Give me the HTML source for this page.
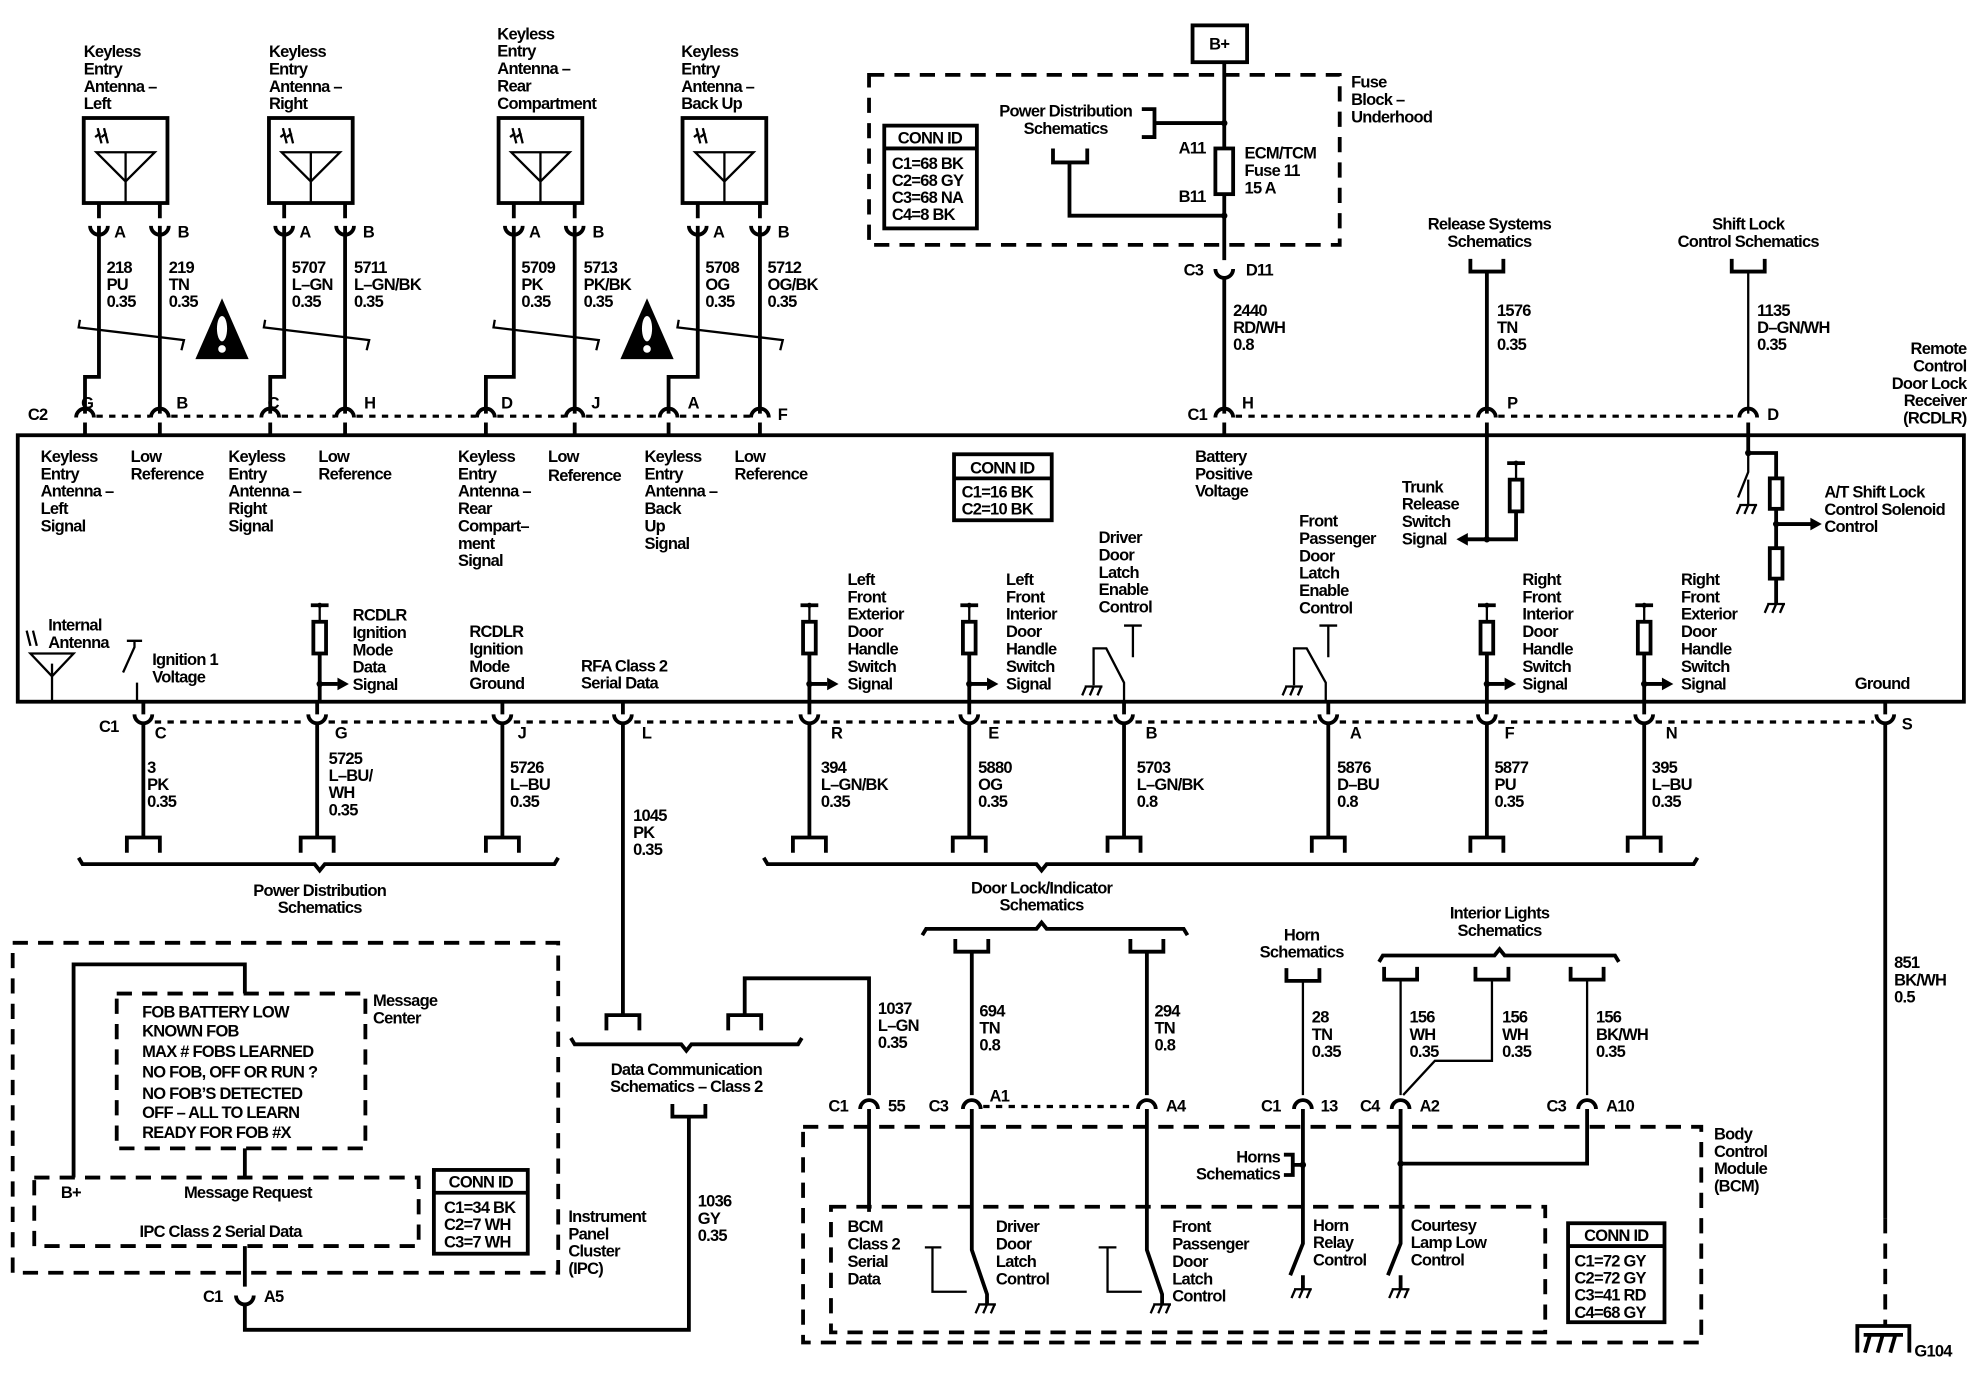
<!DOCTYPE html>
<html><head><meta charset="utf-8"><style>
html,body{margin:0;padding:0;background:#fff;}
svg{display:block;}
text{font-family:"Liberation Sans",sans-serif;font-size:13px;fill:#000;letter-spacing:-0.6px;font-weight:bold;}
.w{stroke:#000;stroke-width:3;fill:none;}
.t{stroke:#000;stroke-width:1.8;fill:none;}
.d{stroke:#000;stroke-width:3;fill:none;stroke-dasharray:12 8;}
.dd{stroke:#000;stroke-width:2.5;fill:none;stroke-dasharray:5 5;}
</style></head><body>
<svg width="1988" height="1392" viewBox="0 0 1567 1097" preserveAspectRatio="none" xmlns="http://www.w3.org/2000/svg">
<defs>
<path id="cu" d="M-7,-7 A7,7 0 0 0 7,-7" class="w"/>
<path id="ca" d="M-7,7 A7,7 0 0 1 7,7" class="w"/>
<path id="bt" d="M-13,12 V0 H13 V12" class="w"/>
<path id="bb" d="M-13,0 V10 H13 V0" class="w"/>
<path id="gnd" d="M-7,0 H7 M-6,0 l-3,7 M0,0 l-3,7 M6,0 l-3,7" class="t"/>
<g id="ant"><rect x="0" y="0" width="66" height="67" class="w"/><path d="M10,27 H56 L33,50 Z M33,27 V67" class="t"/><path d="M11,8 l3,12 M16,8 l3,12 M9,15 l4,-3 M14,15 l4,-3" class="t"/></g>
<g id="warn"><path d="M0,0 L21,48 H-21 Z" fill="#000"/><ellipse cx="0" cy="24" rx="4" ry="10" fill="#fff"/><circle cx="0" cy="40" r="3" fill="#fff"/></g>
<g id="res"><path d="M-7,0 H7" class="w"/><circle cx="0" cy="0" r="2"/><path d="M0,0 V13" class="t"/><rect x="-5" y="13" width="10" height="25" class="w" fill="#fff"/></g>
</defs>

<text x="66" y="45">Keyless<tspan x="66" dy="13.7">Entry</tspan><tspan x="66" dy="13.7">Antenna –</tspan><tspan x="66" dy="13.7">Left</tspan></text>
<text x="212" y="45">Keyless<tspan x="212" dy="13.7">Entry</tspan><tspan x="212" dy="13.7">Antenna –</tspan><tspan x="212" dy="13.7">Right</tspan></text>
<text x="392" y="31">Keyless<tspan x="392" dy="13.7">Entry</tspan><tspan x="392" dy="13.7">Antenna –</tspan><tspan x="392" dy="13.7">Rear</tspan><tspan x="392" dy="13.7">Compartment</tspan></text>
<text x="537" y="45">Keyless<tspan x="537" dy="13.7">Entry</tspan><tspan x="537" dy="13.7">Antenna –</tspan><tspan x="537" dy="13.7">Back Up</tspan></text>
<use href="#ant" x="66" y="93"/><use href="#ant" x="212" y="93"/><use href="#ant" x="393" y="93"/><use href="#ant" x="538" y="93"/>

<g class="w">
<path d="M78,160 V172 M126,160 V172 M224,160 V172 M272,160 V172 M405,160 V172 M453,160 V172 M550,160 V172 M599,160 V172"/>
<path d="M78,178 V297 H67 V326 M126,178 V326 M224,178 V297 H213 V326 M272,178 V326 M405,178 V297 H383 V326 M453,178 V326 M550,178 V297 H527 V326 M599,178 V326"/>
</g>
<use href="#cu" x="78" y="185"/><use href="#cu" x="126" y="185"/><use href="#cu" x="224" y="185"/><use href="#cu" x="272" y="185"/>
<use href="#cu" x="405" y="185"/><use href="#cu" x="453" y="185"/><use href="#cu" x="550" y="185"/><use href="#cu" x="599" y="185"/>
<text x="90" y="187">A</text><text x="140" y="187">B</text><text x="236" y="187">A</text><text x="286" y="187">B</text>
<text x="417" y="187">A</text><text x="467" y="187">B</text><text x="562" y="187">A</text><text x="613" y="187">B</text>
<text x="84" y="215">218<tspan x="84" dy="13.5">PU</tspan><tspan x="84" dy="13.5">0.35</tspan></text>
<text x="133" y="215">219<tspan x="133" dy="13.5">TN</tspan><tspan x="133" dy="13.5">0.35</tspan></text>
<text x="230" y="215">5707<tspan x="230" dy="13.5">L–GN</tspan><tspan x="230" dy="13.5">0.35</tspan></text>
<text x="279" y="215">5711<tspan x="279" dy="13.5">L–GN/BK</tspan><tspan x="279" dy="13.5">0.35</tspan></text>
<text x="411" y="215">5709<tspan x="411" dy="13.5">PK</tspan><tspan x="411" dy="13.5">0.35</tspan></text>
<text x="460" y="215">5713<tspan x="460" dy="13.5">PK/BK</tspan><tspan x="460" dy="13.5">0.35</tspan></text>
<text x="556" y="215">5708<tspan x="556" dy="13.5">OG</tspan><tspan x="556" dy="13.5">0.35</tspan></text>
<text x="605" y="215">5712<tspan x="605" dy="13.5">OG/BK</tspan><tspan x="605" dy="13.5">0.35</tspan></text>
<g class="t" stroke-width="2.5">
<path d="M63,252 L62,258 L145,268 L143,276"/>
<path d="M209,252 L208,258 L291,268 L289,276"/>
<path d="M390,252 L389,258 L472,268 L470,276"/>
<path d="M535,252 L534,258 L617,268 L615,276"/>
</g>
<use href="#warn" x="175" y="235"/><use href="#warn" x="510" y="235"/>

<g class="w"><path d="M67,333 V343 M126,333 V343 M213,333 V343 M272,333 V343 M383,333 V343 M453,333 V343 M527,333 V343 M599,333 V343 M965,333 V343 M1378,333 V343"/></g>
<use href="#ca" x="67" y="322"/><use href="#ca" x="126" y="322"/><use href="#ca" x="213" y="322"/><use href="#ca" x="272" y="322"/>
<use href="#ca" x="383" y="322"/><use href="#ca" x="453" y="322"/><use href="#ca" x="527" y="322"/><use href="#ca" x="599" y="322"/>
<use href="#ca" x="965" y="322"/><use href="#ca" x="1172" y="322"/><use href="#ca" x="1378" y="322"/>
<path d="M76,328 H118 M135,328 H205 M222,328 H264 M281,328 H375 M392,328 H445 M462,328 H519 M536,328 H591 M974,328 H1164 M1181,328 H1370" class="dd"/>
<text x="22" y="331">C2</text><text x="64" y="322">G</text><text x="139" y="322">B</text><text x="211" y="322">C</text><text x="287" y="322">H</text>
<text x="395" y="322">D</text><text x="466" y="322">J</text><text x="542" y="322">A</text><text x="613" y="331">F</text>
<text x="936" y="331">C1</text><text x="979" y="322">H</text><text x="1188" y="322">P</text><text x="1393" y="331">D</text>

<rect x="14" y="343" width="1534" height="210" class="w"/>
<text x="1550" y="279" text-anchor="end">Remote<tspan x="1550" dy="13.7" text-anchor="end">Control</tspan><tspan x="1550" dy="13.7" text-anchor="end">Door Lock</tspan><tspan x="1550" dy="13.7" text-anchor="end">Receiver</tspan><tspan x="1550" dy="13.7" text-anchor="end">(RCDLR)</tspan></text>
<text x="32" y="364">Keyless<tspan x="32" dy="13.7">Entry</tspan><tspan x="32" dy="13.7">Antenna –</tspan><tspan x="32" dy="13.7">Left</tspan><tspan x="32" dy="13.7">Signal</tspan></text>
<text x="103" y="364">Low<tspan x="103" dy="13.7">Reference</tspan></text>
<text x="180" y="364">Keyless<tspan x="180" dy="13.7">Entry</tspan><tspan x="180" dy="13.7">Antenna –</tspan><tspan x="180" dy="13.7">Right</tspan><tspan x="180" dy="13.7">Signal</tspan></text>
<text x="251" y="364">Low<tspan x="251" dy="13.7">Reference</tspan></text>
<text x="361" y="364">Keyless<tspan x="361" dy="13.7">Entry</tspan><tspan x="361" dy="13.7">Antenna –</tspan><tspan x="361" dy="13.7">Rear</tspan><tspan x="361" dy="13.7">Compart–</tspan><tspan x="361" dy="13.7">ment</tspan><tspan x="361" dy="13.7">Signal</tspan></text>
<text x="432" y="364">Low<tspan x="432" dy="15">Reference</tspan></text>
<text x="508" y="364">Keyless<tspan x="508" dy="13.7">Entry</tspan><tspan x="508" dy="13.7">Antenna –</tspan><tspan x="508" dy="13.7">Back</tspan><tspan x="508" dy="13.7">Up</tspan><tspan x="508" dy="13.7">Signal</tspan></text>
<text x="579" y="364">Low<tspan x="579" dy="13.7">Reference</tspan></text>
<rect x="752" y="358" width="77" height="52" class="w" stroke-width="2.5"/><path d="M752,377 H829" class="w" stroke-width="2.5"/>
<text x="790" y="373" text-anchor="middle">CONN ID</text>
<text x="758" y="392">C1=16 BK<tspan x="758" dy="13.5">C2=10 BK</tspan></text>
<text x="942" y="364">Battery<tspan x="942" dy="13.7">Positive</tspan><tspan x="942" dy="13.7">Voltage</tspan></text>

<rect x="685" y="59" width="371" height="134" class="d"/>
<rect x="940" y="20" width="43" height="29" class="w" stroke-width="4"/>
<text x="961" y="39" text-anchor="middle">B+</text>
<path d="M965,49 V117 M965,153 V205 M965,218 V326" class="w"/>
<rect x="958" y="117" width="14" height="36" class="w"/>
<circle cx="965" cy="97" r="2.5"/><circle cx="965" cy="170" r="2.5"/>
<path d="M900,86 H910 V108 H900 M910,97 H965" class="w" stroke-width="2.5"/>
<path d="M830,117 V128 H857 V117 M843,128 V170 H965" class="w" stroke-width="2.5"/>
<text x="840" y="92" text-anchor="middle">Power Distribution<tspan x="840" dy="13.7">Schematics</tspan></text>
<text x="929" y="121">A11</text><text x="929" y="159">B11</text>
<text x="981" y="125">ECM/TCM<tspan x="981" dy="13.7">Fuse 11</tspan><tspan x="981" dy="13.7">15 A</tspan></text>
<text x="1065" y="69">Fuse<tspan x="1065" dy="13.7">Block –</tspan><tspan x="1065" dy="13.7">Underhood</tspan></text>
<rect x="697" y="99" width="73" height="81" class="w" stroke-width="2.5"/><path d="M697,117 H770" class="w" stroke-width="2.5"/>
<text x="733" y="113" text-anchor="middle">CONN ID</text>
<text x="703" y="133">C1=68 BK<tspan x="703" dy="13.5">C2=68 GY</tspan><tspan x="703" dy="13.5">C3=68 NA</tspan><tspan x="703" dy="13.5">C4=8 BK</tspan></text>
<use href="#cu" x="965" y="219"/>
<text x="933" y="217">C3</text><text x="982" y="217">D11</text>
<text x="972" y="249">2440<tspan x="972" dy="13.5">RD/WH</tspan><tspan x="972" dy="13.5">0.8</tspan></text>

<text x="1174" y="181" text-anchor="middle">Release Systems<tspan x="1174" dy="13.7">Schematics</tspan></text>
<use href="#bb" x="1172" y="204"/>
<path d="M1172,214 V326 M1172,333 V425" class="w"/>
<text x="1180" y="249">1576<tspan x="1180" dy="13.5">TN</tspan><tspan x="1180" dy="13.5">0.35</tspan></text>
<text x="1378" y="181" text-anchor="middle">Shift Lock<tspan x="1378" dy="13.7">Control Schematics</tspan></text>
<use href="#bb" x="1378" y="204"/>
<path d="M1378,214 V326" class="t"/>
<text x="1385" y="249">1135<tspan x="1385" dy="13.5">D–GN/WH</tspan><tspan x="1385" dy="13.5">0.35</tspan></text>

<text x="1105" y="388">Trunk<tspan x="1105" dy="13.7">Release</tspan><tspan x="1105" dy="13.7">Switch</tspan><tspan x="1105" dy="13.7">Signal</tspan></text>
<use href="#res" x="1195" y="365"/>
<path d="M1195,403 V425 H1155" class="w"/><path d="M1148,425 l9,-5 v10 Z"/><circle cx="1172" cy="425" r="2.5"/>
<path d="M1378,343 V357 H1400 V377" class="w"/><circle cx="1378" cy="357" r="2.5"/>
<path d="M1378,357 V372 L1370,392 M1378,378 V398" class="t"/><use href="#gnd" x="1378" y="398"/>
<rect x="1395" y="377" width="10" height="24" class="w"/>
<path d="M1400,401 V432 M1400,413 H1428" class="w"/><path d="M1436,413 l-9,-5 v10 Z"/><circle cx="1400" cy="413" r="2.5"/>
<rect x="1395" y="432" width="10" height="24" class="w"/><path d="M1400,456 V476" class="w"/><use href="#gnd" x="1400" y="476"/>
<text x="1438" y="392">A/T Shift Lock<tspan x="1438" dy="13.7">Control Solenoid</tspan><tspan x="1438" dy="13.7">Control</tspan></text>

<text x="38" y="497">Internal<tspan x="38" dy="13.7">Antenna</tspan></text>
<path d="M24,515 H58 L41,533 Z M41,523 V553" class="t" stroke-width="2.5"/>
<path d="M21,497 l3,12 M26,497 l3,12" class="t"/>
<path d="M100,505 H112 M106,505 V510 L97,530 M108,538 V553" class="t" stroke-width="2.5"/>
<text x="120" y="524">Ignition 1<tspan x="120" dy="13.7">Voltage</tspan></text>
<use href="#res" x="252" y="477"/><path d="M252,515 V553 M252,539 H266" class="w"/><path d="M275,539 l-9,-5 v10 Z"/><circle cx="252" cy="539" r="2.5"/>
<text x="278" y="489">RCDLR<tspan x="278" dy="13.7">Ignition</tspan><tspan x="278" dy="13.7">Mode</tspan><tspan x="278" dy="13.7">Data</tspan><tspan x="278" dy="13.7">Signal</tspan></text>
<text x="370" y="502">RCDLR<tspan x="370" dy="13.7">Ignition</tspan><tspan x="370" dy="13.7">Mode</tspan><tspan x="370" dy="13.7">Ground</tspan></text>
<text x="458" y="529">RFA Class 2<tspan x="458" dy="13.7">Serial Data</tspan></text>
<g>
<use href="#res" x="638" y="477"/><path d="M638,515 V553 M638,539 H652" class="w"/><path d="M661,539 l-9,-5 v10 Z"/><circle cx="638" cy="539" r="2.5"/>
<use href="#res" x="764" y="477"/><path d="M764,515 V553 M764,539 H778" class="w"/><path d="M787,539 l-9,-5 v10 Z"/><circle cx="764" cy="539" r="2.5"/>
<use href="#res" x="1172" y="477"/><path d="M1172,515 V553 M1172,539 H1186" class="w"/><path d="M1195,539 l-9,-5 v10 Z"/><circle cx="1172" cy="539" r="2.5"/>
<use href="#res" x="1296" y="477"/><path d="M1296,515 V553 M1296,539 H1310" class="w"/><path d="M1319,539 l-9,-5 v10 Z"/><circle cx="1296" cy="539" r="2.5"/>
</g>
<text x="668" y="461">Left<tspan x="668" dy="13.7">Front</tspan><tspan x="668" dy="13.7">Exterior</tspan><tspan x="668" dy="13.7">Door</tspan><tspan x="668" dy="13.7">Handle</tspan><tspan x="668" dy="13.7">Switch</tspan><tspan x="668" dy="13.7">Signal</tspan></text>
<text x="793" y="461">Left<tspan x="793" dy="13.7">Front</tspan><tspan x="793" dy="13.7">Interior</tspan><tspan x="793" dy="13.7">Door</tspan><tspan x="793" dy="13.7">Handle</tspan><tspan x="793" dy="13.7">Switch</tspan><tspan x="793" dy="13.7">Signal</tspan></text>
<text x="866" y="428">Driver<tspan x="866" dy="13.7">Door</tspan><tspan x="866" dy="13.7">Latch</tspan><tspan x="866" dy="13.7">Enable</tspan><tspan x="866" dy="13.7">Control</tspan></text>
<text x="1024" y="415">Front<tspan x="1024" dy="13.7">Passenger</tspan><tspan x="1024" dy="13.7">Door</tspan><tspan x="1024" dy="13.7">Latch</tspan><tspan x="1024" dy="13.7">Enable</tspan><tspan x="1024" dy="13.7">Control</tspan></text>
<text x="1200" y="461">Right<tspan x="1200" dy="13.7">Front</tspan><tspan x="1200" dy="13.7">Interior</tspan><tspan x="1200" dy="13.7">Door</tspan><tspan x="1200" dy="13.7">Handle</tspan><tspan x="1200" dy="13.7">Switch</tspan><tspan x="1200" dy="13.7">Signal</tspan></text>
<text x="1325" y="461">Right<tspan x="1325" dy="13.7">Front</tspan><tspan x="1325" dy="13.7">Exterior</tspan><tspan x="1325" dy="13.7">Door</tspan><tspan x="1325" dy="13.7">Handle</tspan><tspan x="1325" dy="13.7">Switch</tspan><tspan x="1325" dy="13.7">Signal</tspan></text>
<text x="1462" y="543">Ground</text>
<path d="M886,493 H900 M893,493 V518 M862,540 V511 H872 L886,538 V553" class="t" stroke-width="2.5"/><use href="#gnd" x="862" y="541"/>
<path d="M1040,493 H1054 M1047,493 V518 M1020,540 V511 H1030 L1045,538 V553" class="t" stroke-width="2.5"/><use href="#gnd" x="1020" y="541"/>

<g class="w"><path d="M113,553 V563 M250,553 V563 M396,553 V563 M491,553 V563 M638,553 V563 M764,553 V563 M886,553 V563 M1047,553 V563 M1172,553 V563 M1296,553 V563 M1486,553 V563"/></g>
<g><use href="#cu" x="113" y="570"/><use href="#cu" x="250" y="570"/><use href="#cu" x="396" y="570"/><use href="#cu" x="491" y="570"/><use href="#cu" x="638" y="570"/><use href="#cu" x="764" y="570"/><use href="#cu" x="886" y="570"/><use href="#cu" x="1047" y="570"/><use href="#cu" x="1172" y="570"/><use href="#cu" x="1296" y="570"/><use href="#cu" x="1486" y="570"/></g>
<path d="M122,569 H241 M259,569 H387 M405,569 H482 M500,569 H629 M647,569 H755 M773,569 H877 M895,569 H1038 M1056,569 H1163 M1181,569 H1287 M1305,569 H1477" class="dd"/>
<text x="78" y="577">C1</text><text x="122" y="582">C</text><text x="264" y="582">G</text><text x="408" y="582">J</text><text x="506" y="582">L</text>
<text x="655" y="582">R</text><text x="779" y="582">E</text><text x="903" y="582">B</text><text x="1064" y="582">A</text><text x="1186" y="582">F</text><text x="1313" y="582">N</text><text x="1499" y="575">S</text>
<path d="M113,570 V660 M250,570 V660 M396,570 V660 M491,570 V800 M638,570 V660 M764,570 V660 M886,570 V660 M1047,570 V660 M1172,570 V660 M1296,570 V660 M1486,570 V960" class="w"/>
<path d="M1486,960 V1045" class="w" stroke-dasharray="12 8"/>
<text x="116" y="609">3<tspan x="116" dy="13.5">PK</tspan><tspan x="116" dy="13.5">0.35</tspan></text>
<text x="259" y="602">5725<tspan x="259" dy="13.5">L–BU/</tspan><tspan x="259" dy="13.5">WH</tspan><tspan x="259" dy="13.5">0.35</tspan></text>
<text x="402" y="609">5726<tspan x="402" dy="13.5">L–BU</tspan><tspan x="402" dy="13.5">0.35</tspan></text>
<text x="499" y="647">1045<tspan x="499" dy="13.5">PK</tspan><tspan x="499" dy="13.5">0.35</tspan></text>
<text x="647" y="609">394<tspan x="647" dy="13.5">L–GN/BK</tspan><tspan x="647" dy="13.5">0.35</tspan></text>
<text x="771" y="609">5880<tspan x="771" dy="13.5">OG</tspan><tspan x="771" dy="13.5">0.35</tspan></text>
<text x="896" y="609">5703<tspan x="896" dy="13.5">L–GN/BK</tspan><tspan x="896" dy="13.5">0.8</tspan></text>
<text x="1054" y="609">5876<tspan x="1054" dy="13.5">D–BU</tspan><tspan x="1054" dy="13.5">0.8</tspan></text>
<text x="1178" y="609">5877<tspan x="1178" dy="13.5">PU</tspan><tspan x="1178" dy="13.5">0.35</tspan></text>
<text x="1302" y="609">395<tspan x="1302" dy="13.5">L–BU</tspan><tspan x="1302" dy="13.5">0.35</tspan></text>
<text x="1493" y="763">851<tspan x="1493" dy="13.5">BK/WH</tspan><tspan x="1493" dy="13.5">0.5</tspan></text>
<g><use href="#bt" x="113" y="660"/><use href="#bt" x="250" y="660"/><use href="#bt" x="396" y="660"/><use href="#bt" x="638" y="660"/><use href="#bt" x="764" y="660"/><use href="#bt" x="886" y="660"/><use href="#bt" x="1047" y="660"/><use href="#bt" x="1172" y="660"/><use href="#bt" x="1296" y="660"/></g>
<path d="M62,676 L65,681 H248 L252,686 L256,681 H437 L440,676" class="w" stroke-width="2.5"/>
<text x="252" y="706" text-anchor="middle">Power Distribution<tspan x="252" dy="13.7">Schematics</tspan></text>
<path d="M602,676 L605,681 H817 L821,686 L825,681 H1335 L1338,676" class="w" stroke-width="2.5"/>
<text x="821" y="704" text-anchor="middle">Door Lock/Indicator<tspan x="821" dy="13.7">Schematics</tspan></text>
<path d="M1464,1066 V1045 H1505 V1066 M1470,1066 l4,-14 M1480,1066 l4,-14 M1490,1066 l4,-14 M1469,1052 H1500" class="w" stroke-width="2.5"/>
<text x="1509" y="1069">G104</text>

<rect x="10" y="743" width="430" height="260" class="d"/>
<rect x="92" y="783" width="196" height="122" class="d"/>
<rect x="27" y="928" width="303" height="54" class="d"/>
<path d="M193,783 V760 H58 V928 M193,905 V928 M193,982 V1014 M193,1028 V1048 H543 V880" class="w"/>
<use href="#cu" x="193" y="1028"/>
<text x="112" y="802">FOB BATTERY LOW<tspan x="112" dy="15">KNOWN FOB</tspan><tspan x="112" dy="16">MAX # FOBS LEARNED</tspan><tspan x="112" dy="16">NO FOB, OFF OR RUN ?</tspan><tspan x="112" dy="17">NO FOB’S DETECTED</tspan><tspan x="112" dy="15">OFF – ALL TO LEARN</tspan><tspan x="112" dy="16">READY FOR FOB #X</tspan></text>
<text x="294" y="793">Message<tspan x="294" dy="13.7">Center</tspan></text>
<text x="48" y="944">B+</text><text x="145" y="944">Message Request</text><text x="110" y="975">IPC Class 2 Serial Data</text>
<rect x="342" y="922" width="74" height="66" class="w" stroke-width="2.5"/><path d="M342,940 H416" class="w" stroke-width="2.5"/>
<text x="379" y="936" text-anchor="middle">CONN ID</text>
<text x="350" y="956">C1=34 BK<tspan x="350" dy="13.5">C2=7 WH</tspan><tspan x="350" dy="13.5">C3=7 WH</tspan></text>
<text x="448" y="963">Instrument<tspan x="448" dy="13.7">Panel</tspan><tspan x="448" dy="13.7">Cluster</tspan><tspan x="448" dy="13.7">(IPC)</tspan></text>
<text x="160" y="1026">C1</text><text x="208" y="1026">A5</text>
<text x="550" y="951">1036<tspan x="550" dy="13.5">GY</tspan><tspan x="550" dy="13.5">0.35</tspan></text>
<use href="#bb" x="543" y="870"/>

<use href="#bt" x="491" y="800"/><use href="#bt" x="587" y="800"/>
<path d="M587,800 V771 H685 V863" class="w"/>
<path d="M450,818 L453,823 H537 L541,828 L545,823 H629 L632,818" class="w" stroke-width="2.5"/>
<text x="541" y="847" text-anchor="middle">Data Communication<tspan x="541" dy="13.7">Schematics – Class 2</tspan></text>
<text x="692" y="799">1037<tspan x="692" dy="13.5">L–GN</tspan><tspan x="692" dy="13.5">0.35</tspan></text>

<path d="M727,737 L730,732 H817 L821,727 L825,732 H933 L936,737" class="w" stroke-width="2.5"/>
<use href="#bb" x="766" y="740"/><use href="#bb" x="904" y="740"/>
<path d="M766,750 V863 M904,750 V863" class="w"/>
<text x="772" y="801">694<tspan x="772" dy="13.5">TN</tspan><tspan x="772" dy="13.5">0.8</tspan></text>
<text x="910" y="801">294<tspan x="910" dy="13.5">TN</tspan><tspan x="910" dy="13.5">0.8</tspan></text>
<text x="1026" y="741" text-anchor="middle">Horn<tspan x="1026" dy="13.7">Schematics</tspan></text>
<use href="#bb" x="1027" y="763"/><path d="M1027,773 V863" class="t" stroke-width="2.5"/>
<text x="1034" y="806">28<tspan x="1034" dy="13.5">TN</tspan><tspan x="1034" dy="13.5">0.35</tspan></text>
<text x="1182" y="724" text-anchor="middle">Interior Lights<tspan x="1182" dy="13.7">Schematics</tspan></text>
<path d="M1087,758 L1090,753 H1178 L1182,748 L1186,753 H1273 L1276,758" class="w" stroke-width="2.5"/>
<use href="#bb" x="1104" y="762"/><use href="#bb" x="1176" y="762"/><use href="#bb" x="1251" y="762"/>
<path d="M1104,772 V863 M1176,772 V836 H1131 L1106,863 M1251,772 V863" class="t" stroke-width="2.5"/>
<text x="1111" y="806">156<tspan x="1111" dy="13.5">WH</tspan><tspan x="1111" dy="13.5">0.35</tspan></text>
<text x="1184" y="806">156<tspan x="1184" dy="13.5">WH</tspan><tspan x="1184" dy="13.5">0.35</tspan></text>
<text x="1258" y="806">156<tspan x="1258" dy="13.5">BK/WH</tspan><tspan x="1258" dy="13.5">0.35</tspan></text>
<g><use href="#ca" x="685" y="867"/><use href="#ca" x="766" y="867"/><use href="#ca" x="904" y="867"/><use href="#ca" x="1027" y="867"/><use href="#ca" x="1104" y="867"/><use href="#ca" x="1251" y="867"/></g>
<path d="M775,872 H895" class="dd"/>
<text x="653" y="876">C1</text><text x="700" y="876">55</text><text x="732" y="876">C3</text><text x="780" y="868">A1</text><text x="919" y="876">A4</text>
<text x="994" y="876">C1</text><text x="1041" y="876">13</text><text x="1072" y="876">C4</text><text x="1119" y="876">A2</text><text x="1219" y="876">C3</text><text x="1266" y="876">A10</text>

<rect x="633" y="888" width="708" height="170" class="d"/>
<rect x="655" y="951" width="563" height="99" class="d"/>
<path d="M685,874 V955 M766,874 V985 L778,1020 V1028 M904,874 V985 L916,1020 V1028 M1027,874 V980 L1017,1005 M1027,1005 V1016 M1104,874 V980 L1094,1005 M1104,1005 V1016 M1251,874 V917 H1104" class="w"/>
<circle cx="1104" cy="917" r="2.5"/><circle cx="1027" cy="918" r="2.5"/>
<path d="M729,983 H742 M735,983 V1018 H762 M866,983 H880 M873,983 V1018 H900" class="t" stroke-width="2.5"/>
<use href="#gnd" x="778" y="1028"/><use href="#gnd" x="916" y="1028"/><use href="#gnd" x="1027" y="1016"/><use href="#gnd" x="1104" y="1016"/>
<path d="M1012,910 H1019 V926 H1012 M1019,918 H1027" class="w" stroke-width="2.5"/>
<text x="1009" y="916" text-anchor="end">Horns<tspan x="1009" dy="13.7" text-anchor="end">Schematics</tspan></text>
<text x="668" y="971">BCM<tspan x="668" dy="13.7">Class 2</tspan><tspan x="668" dy="13.7">Serial</tspan><tspan x="668" dy="13.7">Data</tspan></text>
<text x="785" y="971">Driver<tspan x="785" dy="13.7">Door</tspan><tspan x="785" dy="13.7">Latch</tspan><tspan x="785" dy="13.7">Control</tspan></text>
<text x="924" y="971">Front<tspan x="924" dy="13.7">Passenger</tspan><tspan x="924" dy="13.7">Door</tspan><tspan x="924" dy="13.7">Latch</tspan><tspan x="924" dy="13.7">Control</tspan></text>
<text x="1035" y="970">Horn<tspan x="1035" dy="13.7">Relay</tspan><tspan x="1035" dy="13.7">Control</tspan></text>
<text x="1112" y="970">Courtesy<tspan x="1112" dy="13.7">Lamp Low</tspan><tspan x="1112" dy="13.7">Control</tspan></text>
<rect x="1236" y="964" width="76" height="78" class="w" stroke-width="2.5"/><path d="M1236,982 H1312" class="w" stroke-width="2.5"/>
<text x="1274" y="978" text-anchor="middle">CONN ID</text>
<text x="1241" y="998">C1=72 GY<tspan x="1241" dy="13.5">C2=72 GY</tspan><tspan x="1241" dy="13.5">C3=41 RD</tspan><tspan x="1241" dy="13.5">C4=68 GY</tspan></text>
<text x="1351" y="898">Body<tspan x="1351" dy="13.7">Control</tspan><tspan x="1351" dy="13.7">Module</tspan><tspan x="1351" dy="13.7">(BCM)</tspan></text>
</svg>
</body></html>
